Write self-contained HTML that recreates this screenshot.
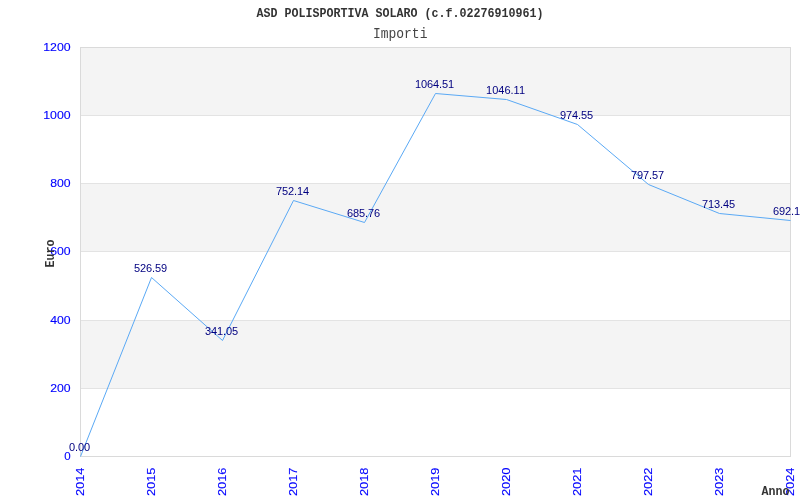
<!DOCTYPE html>
<html><head><meta charset="utf-8"><title>Importi</title>
<style>html,body{margin:0;padding:0;background:#fff;overflow:hidden}svg{display:block;will-change:transform}text{font-family:"Liberation Sans",sans-serif}.m{font-family:"Liberation Mono",monospace}</style>
</head><body>
<svg width="800" height="500" viewBox="0 0 800 500">
<rect x="0" y="0" width="800" height="500" fill="#ffffff"/>
<g shape-rendering="crispEdges">
<rect x="80" y="47" width="711" height="68" fill="#f4f4f4"/>
<rect x="80" y="183" width="711" height="68" fill="#f4f4f4"/>
<rect x="80" y="320" width="711" height="68" fill="#f4f4f4"/>
<rect x="80" y="456" width="711" height="1" fill="#dadada"/>
<rect x="80" y="388" width="711" height="1" fill="#e3e3e3"/>
<rect x="80" y="320" width="711" height="1" fill="#e3e3e3"/>
<rect x="80" y="251" width="711" height="1" fill="#e3e3e3"/>
<rect x="80" y="183" width="711" height="1" fill="#e3e3e3"/>
<rect x="80" y="115" width="711" height="1" fill="#e3e3e3"/>
<rect x="80" y="47" width="711" height="1" fill="#dadada"/>
<rect x="80" y="47" width="1" height="410" fill="#dadada"/>
<rect x="790" y="47" width="1" height="410" fill="#dadada"/>
</g>
<polyline points="80.50,456.50 151.50,277.50 222.50,340.50 293.50,200.50 364.50,222.50 435.50,93.50 506.50,99.50 577.50,124.50 648.50,184.50 719.50,213.50 790.50,220.50" fill="none" stroke="#5aa9f5" stroke-width="1" stroke-linejoin="round"/>
<text class="m" x="400" y="17" text-anchor="middle" font-size="12.6" font-weight="bold" fill="#333333" textLength="287" lengthAdjust="spacingAndGlyphs">ASD POLISPORTIVA SOLARO (c.f.02276910961)</text>
<text class="m" x="400.2" y="38" text-anchor="middle" font-size="14" fill="#444444" textLength="54.5" lengthAdjust="spacingAndGlyphs">Importi</text>
<text x="70.6" y="459.5" text-anchor="end" font-size="11.5" fill="#0000ff" stroke="#0000ff" stroke-width="0.12" textLength="6.4" lengthAdjust="spacingAndGlyphs">0</text>
<text x="70.6" y="391.5" text-anchor="end" font-size="11.5" fill="#0000ff" stroke="#0000ff" stroke-width="0.12" textLength="20.4" lengthAdjust="spacingAndGlyphs">200</text>
<text x="70.6" y="323.5" text-anchor="end" font-size="11.5" fill="#0000ff" stroke="#0000ff" stroke-width="0.12" textLength="20.4" lengthAdjust="spacingAndGlyphs">400</text>
<text x="70.6" y="254.5" text-anchor="end" font-size="11.5" fill="#0000ff" stroke="#0000ff" stroke-width="0.12" textLength="20.4" lengthAdjust="spacingAndGlyphs">600</text>
<text x="70.6" y="186.5" text-anchor="end" font-size="11.5" fill="#0000ff" stroke="#0000ff" stroke-width="0.12" textLength="20.4" lengthAdjust="spacingAndGlyphs">800</text>
<text x="70.6" y="118.5" text-anchor="end" font-size="11.5" fill="#0000ff" stroke="#0000ff" stroke-width="0.12" textLength="27.4" lengthAdjust="spacingAndGlyphs">1000</text>
<text x="70.6" y="50.5" text-anchor="end" font-size="11.5" fill="#0000ff" stroke="#0000ff" stroke-width="0.12" textLength="27.4" lengthAdjust="spacingAndGlyphs">1200</text>
<text transform="translate(83.5,496) rotate(-90)" font-size="11.5" fill="#0000ff" stroke="#0000ff" stroke-width="0.12" textLength="28.5" lengthAdjust="spacingAndGlyphs">2014</text>
<text transform="translate(154.5,496) rotate(-90)" font-size="11.5" fill="#0000ff" stroke="#0000ff" stroke-width="0.12" textLength="28.5" lengthAdjust="spacingAndGlyphs">2015</text>
<text transform="translate(225.5,496) rotate(-90)" font-size="11.5" fill="#0000ff" stroke="#0000ff" stroke-width="0.12" textLength="28.5" lengthAdjust="spacingAndGlyphs">2016</text>
<text transform="translate(296.5,496) rotate(-90)" font-size="11.5" fill="#0000ff" stroke="#0000ff" stroke-width="0.12" textLength="28.5" lengthAdjust="spacingAndGlyphs">2017</text>
<text transform="translate(367.5,496) rotate(-90)" font-size="11.5" fill="#0000ff" stroke="#0000ff" stroke-width="0.12" textLength="28.5" lengthAdjust="spacingAndGlyphs">2018</text>
<text transform="translate(438.5,496) rotate(-90)" font-size="11.5" fill="#0000ff" stroke="#0000ff" stroke-width="0.12" textLength="28.5" lengthAdjust="spacingAndGlyphs">2019</text>
<text transform="translate(509.5,496) rotate(-90)" font-size="11.5" fill="#0000ff" stroke="#0000ff" stroke-width="0.12" textLength="28.5" lengthAdjust="spacingAndGlyphs">2020</text>
<text transform="translate(580.5,496) rotate(-90)" font-size="11.5" fill="#0000ff" stroke="#0000ff" stroke-width="0.12" textLength="28.5" lengthAdjust="spacingAndGlyphs">2021</text>
<text transform="translate(651.5,496) rotate(-90)" font-size="11.5" fill="#0000ff" stroke="#0000ff" stroke-width="0.12" textLength="28.5" lengthAdjust="spacingAndGlyphs">2022</text>
<text transform="translate(722.5,496) rotate(-90)" font-size="11.5" fill="#0000ff" stroke="#0000ff" stroke-width="0.12" textLength="28.5" lengthAdjust="spacingAndGlyphs">2023</text>
<text transform="translate(793.5,496) rotate(-90)" font-size="11.5" fill="#0000ff" stroke="#0000ff" stroke-width="0.12" textLength="28.5" lengthAdjust="spacingAndGlyphs">2024</text>
<text x="79.5" y="451.0" text-anchor="middle" font-size="11" fill="#000080" textLength="21" lengthAdjust="spacing">0.00</text>
<text x="150.5" y="272.0" text-anchor="middle" font-size="11" fill="#000080" textLength="33" lengthAdjust="spacing">526.59</text>
<text x="221.5" y="335.0" text-anchor="middle" font-size="11" fill="#000080" textLength="33" lengthAdjust="spacing">341.05</text>
<text x="292.5" y="195.0" text-anchor="middle" font-size="11" fill="#000080" textLength="33" lengthAdjust="spacing">752.14</text>
<text x="363.5" y="217.0" text-anchor="middle" font-size="11" fill="#000080" textLength="33" lengthAdjust="spacing">685.76</text>
<text x="434.5" y="88.0" text-anchor="middle" font-size="11" fill="#000080" textLength="39" lengthAdjust="spacing">1064.51</text>
<text x="505.5" y="94.0" text-anchor="middle" font-size="11" fill="#000080" textLength="39" lengthAdjust="spacing">1046.11</text>
<text x="576.5" y="119.0" text-anchor="middle" font-size="11" fill="#000080" textLength="33" lengthAdjust="spacing">974.55</text>
<text x="647.5" y="179.0" text-anchor="middle" font-size="11" fill="#000080" textLength="33" lengthAdjust="spacing">797.57</text>
<text x="718.5" y="208.0" text-anchor="middle" font-size="11" fill="#000080" textLength="33" lengthAdjust="spacing">713.45</text>
<text x="789.5" y="215.0" text-anchor="middle" font-size="11" fill="#000080" textLength="33" lengthAdjust="spacing">692.12</text>
<text class="m" transform="translate(761.5,494.5) scale(1,1.13)" font-size="12" font-weight="bold" fill="#333333" textLength="28" lengthAdjust="spacingAndGlyphs">Anno</text>
<text class="m" transform="translate(53.5,267.5) rotate(-90) scale(1,1.06)" font-size="12" font-weight="bold" fill="#333333" textLength="28" lengthAdjust="spacingAndGlyphs">Euro</text>
</svg>
</body></html>
